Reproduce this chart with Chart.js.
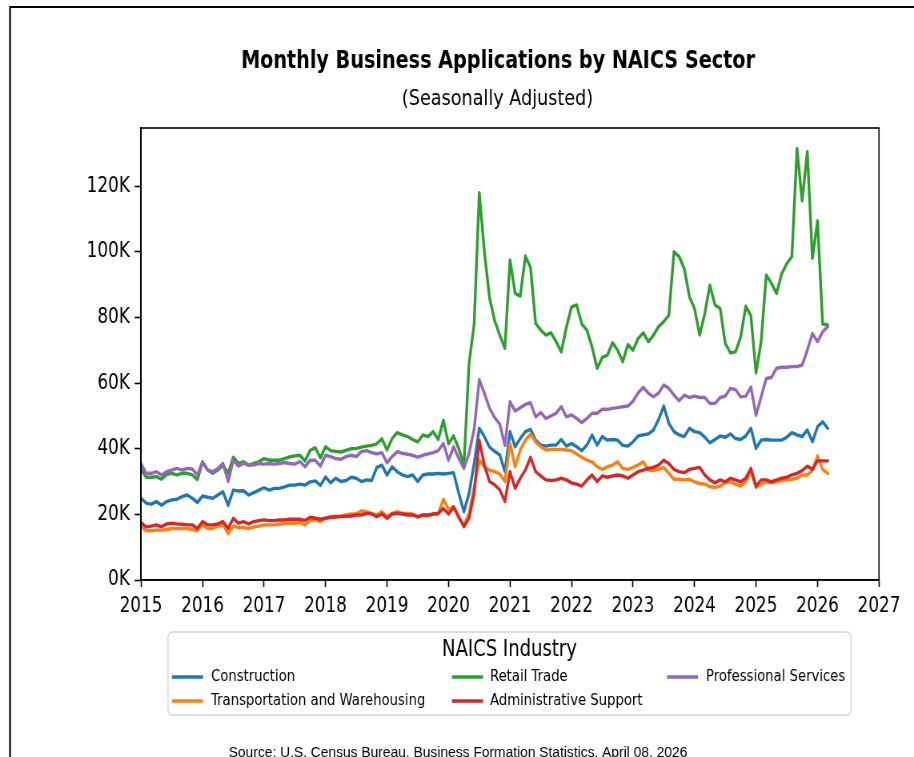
<!DOCTYPE html>
<html>
<head>
<meta charset="utf-8">
<script src="https://cdn.jsdelivr.net/npm/chart.js@4.4.1/dist/chart.umd.min.js"></script>
<style>
  html, body { margin: 0; padding: 0; background: #fff; overflow: hidden; width: 914px; height: 757px; }
  #wrap { position: absolute; left: 0; top: 0; width: 1142px; height: 757px; transform: scaleX(0.80035); transform-origin: 0 0; }
</style>
</head>
<body>
<div id="wrap"><canvas id="c"></canvas></div>
<script>
// ---- Data (thousands of applications, monthly, Jan 2015 .. Mar 2026) ----
const START_YEAR = 2015;
const N_MONTHS = 135;
const monthLabels = [];
for (let i = 0; i < N_MONTHS; i++) {
  const y = START_YEAR + Math.floor(i / 12), m = (i % 12) + 1;
  monthLabels.push(y + '-' + String(m).padStart(2, '0'));
}

const construction = [
  24.9,23.4,23.1,23.9,22.8,23.9,24.4,24.6,25.4,25.9,24.9,23.6,
  25.6,25.2,24.9,25.9,26.9,22.8,27.4,27.1,27.2,25.9,26.6,27.4,
  28.1,27.4,27.9,27.9,28.4,28.9,28.9,29.2,28.9,29.9,30.2,28.8,
  31.4,29.6,31.0,30.0,30.3,31.3,31.0,30.0,30.5,30.3,34.3,35.0,
  32.0,34.5,33.0,32.0,31.5,32.0,30.0,32.0,32.3,32.3,32.5,32.3,
  32.5,32.7,26.4,20.8,26.4,35.5,46.2,43.7,40.5,39.2,38.1,33.0,
  45.2,40.6,43.1,45.2,45.9,42.6,41.1,40.8,41.1,41.1,42.8,40.8,
  41.6,40.6,39.4,41.1,44.2,41.1,43.7,42.6,42.8,42.6,41.0,40.8,
  42.1,43.9,44.2,44.5,45.7,48.9,53.0,47.7,45.2,44.2,43.7,46.2,
  45.2,44.9,43.5,41.8,42.8,43.9,43.5,44.5,43.1,42.8,43.9,46.2,
  40.1,42.6,42.8,42.6,42.6,42.6,43.5,44.9,44.2,43.7,45.7,42.1,
  46.7,48.2,46.2
];
const transportation = [
  16.4,15.0,15.0,15.2,15.2,15.4,15.7,15.7,15.7,15.7,15.4,15.0,
  16.8,15.7,15.7,16.4,16.8,14.2,16.4,16.0,16.0,15.7,16.2,16.4,
  16.8,16.8,16.8,17.0,17.3,17.3,17.3,17.5,16.8,18.1,18.3,17.8,
  18.8,19.3,19.4,19.5,19.8,20.1,20.1,21.1,20.8,20.3,19.8,20.8,
  19.3,20.3,20.8,20.3,20.3,20.1,19.1,19.8,19.5,20.1,20.1,24.6,
  21.5,22.3,18.8,16.8,20.3,28.4,36.5,34.5,33.5,33.0,32.3,30.0,
  41.6,34.5,39.6,42.6,44.5,42.1,40.6,39.6,39.8,39.8,39.8,39.6,
  39.4,38.4,37.4,36.5,36.0,34.5,33.7,34.5,35.0,36.0,34.0,33.7,
  34.3,35.0,36.0,33.5,33.3,33.7,34.3,32.5,30.7,30.7,30.5,30.7,
  29.9,29.4,29.2,28.4,28.2,28.6,29.6,29.9,29.2,28.6,29.9,33.0,
  28.2,29.2,29.9,29.6,29.9,30.3,30.5,30.7,31.0,32.0,32.0,33.3,
  37.8,33.7,32.5
];
const retailTrade = [
  33.8,31.3,31.3,31.5,30.7,32.2,32.5,32.0,32.5,32.5,32.0,30.6,
  36.0,33.5,32.5,33.5,35.0,32.5,37.4,35.5,36.0,35.0,35.5,36.0,
  37.0,36.5,36.5,36.5,37.0,37.5,37.8,38.0,36.3,39.5,40.3,37.2,
  40.6,39.4,39.2,39.0,39.5,40.0,40.1,40.5,40.8,41.0,41.5,43.0,
  39.6,43.1,44.9,44.2,43.7,42.8,42.1,44.2,43.7,45.2,42.8,48.7,
  41.5,43.9,40.0,35.0,66.0,78.0,118.0,100.0,86.0,79.0,74.6,70.6,
  97.5,87.3,86.5,98.7,95.2,78.2,76.1,74.6,75.3,72.6,69.5,77.0,
  83.2,83.8,78.0,76.1,71.0,64.5,67.8,68.5,72.3,70.0,66.5,71.7,
  70.0,73.6,75.3,72.6,74.6,77.2,78.7,80.7,100.0,98.5,94.9,86.3,
  82.7,74.6,81.2,89.8,83.8,82.7,72.1,69.2,69.5,74.0,83.4,80.5,
  63.1,72.6,92.9,90.4,87.3,93.2,96.4,98.5,131.5,115.5,130.5,98.0,
  109.4,78.0,77.7
];
const administrativeSupport = [
  17.5,16.2,16.4,16.8,16.2,17.1,17.3,17.1,17.0,16.8,16.8,15.7,
  17.8,16.8,16.8,17.1,17.8,15.7,18.8,17.3,17.8,17.1,17.8,18.1,
  18.3,18.1,18.1,18.3,18.3,18.5,18.5,18.5,18.1,19.1,18.8,18.5,
  18.8,19.1,19.2,19.3,19.4,19.5,19.8,19.8,20.3,20.1,19.3,20.1,
  18.8,20.1,20.3,20.1,19.8,19.8,19.3,19.8,19.8,20.1,20.3,21.8,
  20.1,22.3,19.3,16.2,18.8,26.4,42.6,35.0,30.0,29.0,27.5,23.9,
  33.0,27.9,31.0,33.5,37.4,33.0,31.7,30.5,30.3,30.5,31.0,30.5,
  29.6,29.2,28.6,30.5,32.0,30.0,31.7,31.3,31.7,32.0,31.7,31.0,
  32.0,33.0,33.5,34.0,34.3,35.0,36.5,35.5,33.7,33.0,32.7,33.7,
  34.0,34.3,32.0,30.5,29.6,30.5,29.9,31.0,30.5,29.9,31.0,34.0,
  28.6,30.5,30.5,29.9,30.5,31.0,31.3,32.0,32.5,33.3,34.7,33.7,
  36.3,36.3,36.3
];
const professionalServices = [
  35.5,32.5,32.5,33.0,32.0,33.0,33.5,34.0,33.5,34.0,33.8,32.0,
  36.0,33.5,33.0,34.0,35.5,30.0,36.5,34.7,35.5,35.0,35.0,35.5,
  35.3,35.5,35.3,35.5,35.8,35.5,35.3,36.1,34.5,36.5,36.5,34.7,
  38.0,37.6,37.0,36.8,37.6,38.0,37.6,39.1,39.4,38.8,38.4,38.8,
  35.7,37.6,39.1,38.6,38.3,38.0,37.4,38.0,38.4,38.8,39.4,41.6,
  36.5,40.6,37.0,34.0,38.5,46.0,61.0,56.9,52.3,49.5,47.5,41.0,
  54.3,51.5,52.5,53.5,54.0,49.7,51.0,49.2,50.0,50.8,52.8,49.7,
  50.3,49.2,48.0,49.2,50.8,50.8,52.0,52.0,52.3,52.5,52.8,53.0,
  54.5,57.0,58.7,56.9,55.8,57.0,59.4,58.4,56.3,54.6,56.3,55.6,
  56.0,55.6,55.6,53.8,53.8,55.6,56.0,58.4,58.0,55.8,56.0,58.8,
  50.2,55.8,61.4,61.7,64.5,64.8,64.8,65.0,65.0,65.5,70.0,75.1,
  72.6,75.6,77.2
];

const seriesNames = ['Construction', 'Transportation and Warehousing', 'Retail Trade', 'Administrative Support', 'Professional Services'];
const seriesColors = ['#1f77b4', '#ff7f0e', '#2ca02c', '#d62728', '#9467bd'];
const seriesValues = [construction, transportation, retailTrade, administrativeSupport, professionalServices];

const xTickYears = [2015, 2016, 2017, 2018, 2019, 2020, 2021, 2022, 2023, 2024, 2025, 2026, 2027];
const yTickValues = [0, 20, 40, 60, 80, 100, 120];

const titleText = 'Monthly Business Applications by NAICS Sector';
const subtitleText = '(Seasonally Adjusted)';
const legendTitle = 'NAICS Industry';
const sourceText = 'Source: U.S. Census Bureau, Business Formation Statistics, April 08, 2026';

// ---- Layout (reference pixel coords, converted for the horizontal squeeze) ----
const S = 0.80035;
const W = 1142;
const u = x => x / S;
const FONT = "'DejaVu Sans', sans-serif";

function monthToX(label) {
  const [y, m] = label.split('-').map(Number);
  return y + (m - 1) / 12;
}

const datasets = seriesNames.map((name, i) => ({
  label: name,
  data: seriesValues[i].map((v, k) => ({ x: monthToX(monthLabels[k]), y: v })),
  borderColor: seriesColors[i],
  backgroundColor: seriesColors[i],
  borderWidth: 3.4,
  pointRadius: 0,
  tension: 0,
  fill: false,
  order: seriesNames.length - i,
  borderJoinStyle: 'round',
  borderCapStyle: 'round'
}));

const decorPlugin = {
  id: 'decor',
  beforeDraw(chart) {
    const ctx = chart.ctx;
    ctx.save();
    ctx.fillStyle = '#fff';
    ctx.fillRect(0, 0, chart.width, chart.height);
    // outer frame
    ctx.strokeStyle = '#000';
    ctx.lineWidth = 2.2;
    ctx.beginPath();
    ctx.moveTo(u(10), chart.height + 2);
    ctx.lineTo(u(10), 7);
    ctx.lineTo(chart.width + 5, 7);
    ctx.stroke();
    // titles
    ctx.fillStyle = '#000';
    ctx.textAlign = 'center';
    ctx.textBaseline = 'middle';
    ctx.font = 'bold 24px ' + FONT;
    ctx.fillText(titleText, u(498), 62);
    ctx.font = '22px ' + FONT;
    ctx.fillText(subtitleText, u(497.5), 99);
    // source (not squeezed)
    ctx.save();
    ctx.scale(1 / S, 1);
    ctx.font = "13.8px 'Liberation Sans', Arial, sans-serif";
    ctx.fillText(sourceText, 458, 753);
    ctx.restore();
    ctx.restore();
  },
  afterDraw(chart) {
    const ctx = chart.ctx;
    const a = chart.chartArea;
    ctx.save();
    // axes box
    ctx.strokeStyle = '#000';
    ctx.lineWidth = 1.6;
    ctx.strokeRect(a.left, a.top, a.right - a.left, a.bottom - a.top);
    // legend
    const bx = u(168), by = 632, bw = u(851) - u(168), bh = 83, r = 5;
    ctx.fillStyle = 'rgba(255,255,255,0.8)';
    ctx.strokeStyle = '#d4d4d4';
    ctx.lineWidth = 1.3;
    ctx.beginPath();
    ctx.moveTo(bx + r, by);
    ctx.arcTo(bx + bw, by, bx + bw, by + bh, r);
    ctx.arcTo(bx + bw, by + bh, bx, by + bh, r);
    ctx.arcTo(bx, by + bh, bx, by, r);
    ctx.arcTo(bx, by, bx + bw, by, r);
    ctx.closePath();
    ctx.fill();
    ctx.stroke();
    ctx.fillStyle = '#000';
    ctx.textAlign = 'center';
    ctx.textBaseline = 'middle';
    ctx.font = '22.5px ' + FONT;
    ctx.fillText(legendTitle, u(509.5), 650);
    const colLine = [172, 452, 667];
    const colText = [211, 490, 706];
    const rowY = [677, 701];
    const nRows = 2;
    ctx.font = '16.5px ' + FONT;
    ctx.textAlign = 'left';
    chart.data.datasets.forEach((ds, i) => {
      const col = Math.floor(i / nRows), row = i % nRows;
      const y = rowY[row];
      ctx.strokeStyle = ds.borderColor;
      ctx.lineWidth = 3.4;
      ctx.beginPath();
      ctx.moveTo(u(colLine[col]), y);
      ctx.lineTo(u(colLine[col] + 31), y);
      ctx.stroke();
      ctx.fillStyle = '#000';
      ctx.fillText(ds.label, u(colText[col]), y);
    });
    ctx.restore();
  }
};

const tickFont = { family: FONT, size: 21 };
new Chart(document.getElementById('c'), {
  type: 'line',
  data: { datasets },
  options: {
    responsive: true,
    maintainAspectRatio: false,
    animation: false,
    events: [],
    layout: { padding: { left: u(141) - 80, right: W - u(879), top: 128, bottom: 757 - 580 - 45 } },
    plugins: { legend: { display: false }, title: { display: false }, tooltip: { enabled: false } },
    scales: {
      x: {
        type: 'linear',
        min: xTickYears[0],
        max: xTickYears[xTickYears.length - 1],
        afterBuildTicks: s => { s.ticks = xTickYears.map(v => ({ value: v })); },
        afterFit: s => { s.height = 45; },
        ticks: { callback: v => String(v), font: tickFont, color: '#000', padding: 7, maxRotation: 0, autoSkip: false },
        grid: { drawOnChartArea: false, drawTicks: true, tickLength: 7, tickColor: '#000', tickWidth: 1.6 },
        border: { display: true, color: '#000', width: 1.6 }
      },
      y: {
        type: 'linear',
        min: 0,
        max: 137.7,
        afterBuildTicks: s => { s.ticks = yTickValues.map(v => ({ value: v })); },
        afterFit: s => { s.width = 80; },
        ticks: { callback: v => v + 'K', font: tickFont, color: '#000', padding: 6 },
        grid: { drawOnChartArea: false, drawTicks: true, tickLength: 8, tickColor: '#000', tickWidth: 1.6 },
        border: { display: true, color: '#000', width: 1.6 }
      }
    }
  },
  plugins: [decorPlugin]
});
</script>
</body>
</html>
